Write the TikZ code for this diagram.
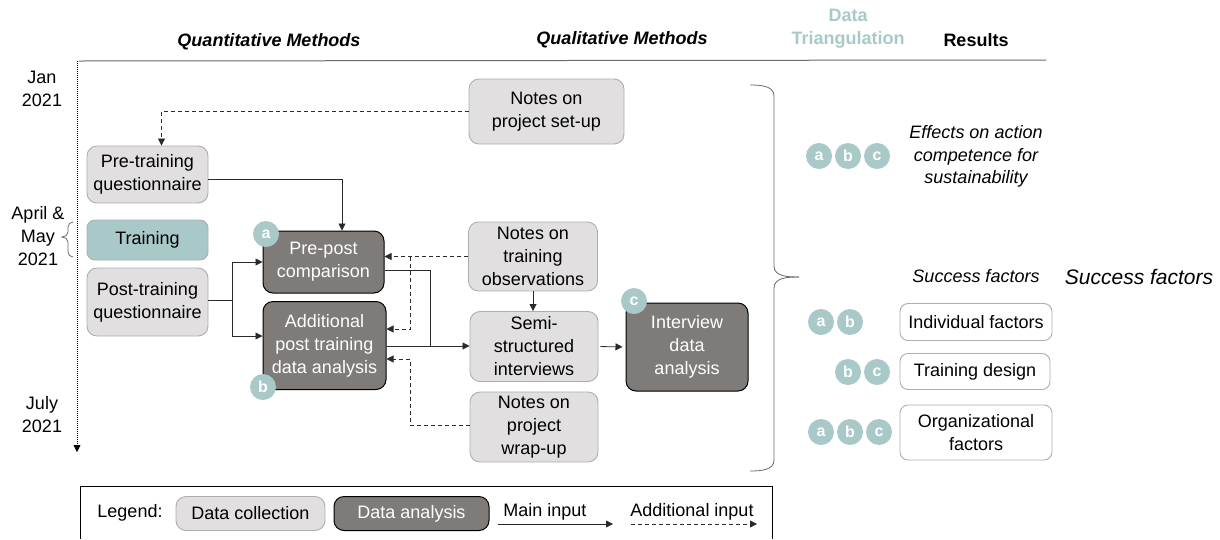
\documentclass[tikz,border=0pt]{standalone}
\usepackage{fontspec}
\setmainfont{Liberation Sans}
\usetikzlibrary{arrows.meta,calc}
\definecolor{lgray}{HTML}{E1DFE0}
\definecolor{lborder}{HTML}{AEAEAE}
\definecolor{dgray}{HTML}{7F7B78}
\definecolor{tealc}{HTML}{A9C9C8}
\definecolor{linec}{HTML}{2A2A2A}
\definecolor{rulec}{HTML}{6A6A6A}
\begin{document}
\begin{tikzpicture}[x=1pt,y=-1pt,
 every node/.style={font=\fontsize{18}{23}\selectfont, inner sep=0pt},
 coll/.style={draw=lborder, fill=lgray, rounded corners=10pt, align=center, line width=0.9pt},
 anal/.style={draw=black, fill=dgray, text=white, rounded corners=10pt, align=center, line width=1pt},
 trainbox/.style={draw=lborder, fill=tealc, rounded corners=8pt, align=center, line width=0.9pt},
 res/.style={draw=lborder, fill=white, rounded corners=8pt, align=center, line width=0.9pt},
 badge/.style={circle, fill=tealc, text=white, minimum size=26pt, font=\fontsize{16}{16}\selectfont\bfseries},
 arr/.style={draw=linec, line width=0.8pt, -{Triangle[length=7pt,width=7pt]}},
 ln/.style={draw=linec, line width=0.8pt},
 dasharr/.style={draw=linec, line width=0.8pt, dash pattern=on 4pt off 3pt, -{Triangle[length=7pt,width=7pt]}},
 hdr/.style={font=\fontsize{18}{23}\selectfont\bfseries\itshape},
 brk/.style={draw=rulec, line width=0.8pt}
]
\useasboundingbox (0,0) rectangle (1220,539);

% headers
\node[hdr] (hq) at (269,42) {Quantitative Methods};
\node[hdr] (hl) at (622,40) {Qualitative Methods};
\node[font=\fontsize{18}{23}\selectfont\bfseries, text=tealc, align=center] (ht) at (848,29) {Data\\Triangulation};
\node[font=\fontsize{18}{23}\selectfont\bfseries] (hr) at (976,40) {Results};
\coordinate (h0) at (79,61);
\coordinate (h1) at (1046,60);
\draw[draw=rulec, line width=1pt] (h0) -- (h1);

% timeline
\coordinate (t0) at (77,61);
\coordinate (t1) at (77,452);
\draw[draw=black, line width=0.8pt, dash pattern=on 1pt off 1pt, -{Triangle[length=7pt,width=7pt]}] (t0) -- (t1);
\node[align=center] (jan) at (42,88.5) {Jan\\2021};
\node[align=center] (apr) at (38,236) {April \&\\May\\2021};
\node[align=center] (jul) at (42,415) {July\\2021};
\draw[brk] (73,222) to[out=180,in=90] (68,227) -- (68,232) to[out=-90,in=0] (62,237)
  to[out=0,in=90] (68,242) -- (68,252) to[out=-90,in=180] (73,257);

% collection nodes
\node[coll, minimum width=121pt, minimum height=57pt] (pretq) at (147.5,174.5) {Pre-training\\questionnaire};
\node[trainbox, minimum width=121pt, minimum height=40pt] (train) at (147.5,240) {Training};
\node[coll, minimum width=121pt, minimum height=68pt] (posttq) at (147.5,302) {Post-training\\questionnaire};
\node[coll, minimum width=155pt, minimum height=65pt] (setup) at (546.5,111.5) {Notes on\\project set-up};
\node[coll, minimum width=129pt, minimum height=69pt] (obs) at (533,256.5) {Notes on\\training\\observations};
\node[coll, minimum width=128pt, minimum height=70pt] (semi) at (534,346.5) {Semi-\\structured\\interviews};
\node[coll, minimum width=128pt, minimum height=70pt] (wrap) at (534,427) {Notes on\\project\\wrap-up};

% analysis nodes
\node[anal, minimum width=121pt, minimum height=62pt] (prepost) at (323.5,262) {Pre-post\\comparison};
\node[anal, minimum width=123pt, minimum height=88pt] (addl) at (324.5,345.5) {Additional\\post training\\data analysis};
\node[anal, minimum width=122pt, minimum height=88pt] (interv) at (687,347) {Interview\\data\\analysis};

% badges
\node[badge] (ba) at (266,234) {a};
\node[badge] (bb) at (263,387) {b};
\node[badge] (bc) at (634,301) {c};

% connectors
\draw[dasharr] (setup.west) -| ([xshift=14pt]pretq.north);
\draw[arr] ([yshift=-4.5pt]pretq.east) -| ([xshift=18.5pt]prepost.north);
\coordinate (br) at ([xshift=24pt,yshift=2pt]posttq.east);
\draw[ln] ([yshift=2pt]posttq.east) -- (br);
\draw[arr] (br) |- (prepost.west);
\draw[arr] (br) |- ([yshift=9.5pt]addl.west);
\draw[dasharr] (obs.west) -- (prepost.east |- obs.west);
\coordinate (d1) at (410,256.5);
\draw[dasharr] (d1) |- ([yshift=16.5pt]addl.east);
\coordinate (d2) at (410,359);
\draw[dasharr] ([yshift=2pt]wrap.west) -| (d2) -- (addl.east |- d2);
\coordinate (j) at (430,346);
\draw[ln] ([yshift=-8pt]prepost.east) -| (j);
\draw[arr] (addl.east |- j) -- (semi.west |- j);
\draw[arr] (obs.south -| 533,0) -- (semi.north -| 533,0);
\draw[arr, shorten <=2pt, shorten >=3pt] (semi.east) -- (interv.west);

% big brace
\draw[brk] (750,85) to[out=0,in=90] (774,96) -- (774,266) to[out=-90,in=180] (799,277);
\draw[brk] (799,277) to[out=180,in=90] (774,288) -- (774,460) to[out=-90,in=0] (750,471);

% results
\node[badge] (r1a) at (819,156) {a};
\node[badge] (r1b) at (848,156) {b};
\node[badge] (r1c) at (877,156) {c};
\node[font=\fontsize{18}{22.5}\selectfont\itshape, align=center] (eff) at (976,156.5) {Effects on action\\competence for\\sustainability};
\node[font=\fontsize{18}{22}\selectfont\itshape] (sf1) at (976,276) {Success factors};
\node[font=\fontsize{21}{24}\selectfont\itshape] (sf2) at (1139,277) {Success factors};

\node[res, minimum width=152pt, minimum height=37pt] (indiv) at (976,322) {Individual factors};
\node[res, minimum width=150pt, minimum height=36pt] (tdes) at (975,371.5) {Training design};
\node[res, minimum width=152pt, minimum height=55pt] (org) at (976,432.5) {Organizational\\factors};
\node[badge] (r2a) at (821,322) {a};
\node[badge] (r2b) at (850,322) {b};
\node[badge] (r3b) at (848,372) {b};
\node[badge] (r3c) at (877,372) {c};
\node[badge] (r4a) at (821,432) {a};
\node[badge] (r4b) at (850,432) {b};
\node[badge] (r4c) at (879,432) {c};

% legend
\draw[draw=black, line width=1pt] (80,539) -- (80,486) -- (772,486) -- (772,539);
\node (leg) at (130,513) {Legend:};
\node[coll, minimum width=149pt, minimum height=34pt] (lcoll) at (250.5,513.5) {Data collection};
\node[anal, minimum width=155pt, minimum height=34pt] (lanal) at (411.5,513.5) {Data analysis};
\node (lmain) at (545,512) {Main input};
\node (ladd) at (692,512) {Additional input};
\coordinate (m1) at (498,524);
\coordinate (m2) at (613,524);
\coordinate (a1) at (631,524);
\coordinate (a2) at (757,524);
\draw[arr] (m1) -- (m2);
\draw[dasharr] (a1) -- (a2);
\end{tikzpicture}
\end{document}
